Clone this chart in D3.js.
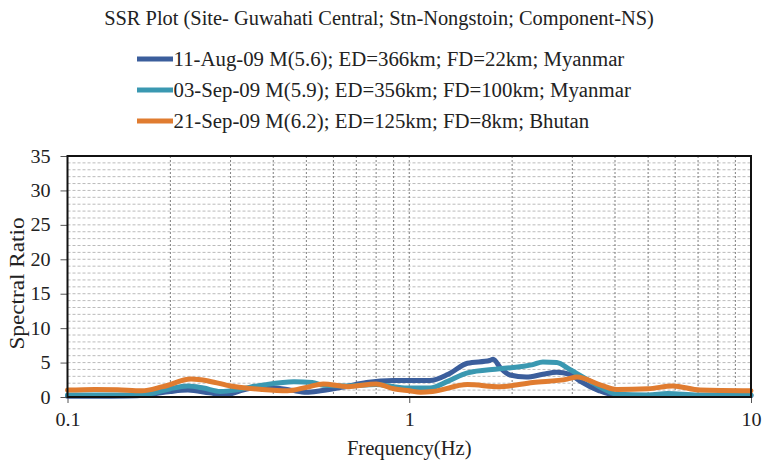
<!DOCTYPE html>
<html>
<head>
<meta charset="utf-8">
<script src="https://cdn.jsdelivr.net/npm/d3@7"></script>
<style>
  html, body { margin: 0; padding: 0; background: #fff; }
  svg { display: block; font-family: "Liberation Serif", "Times New Roman", serif; }
</style>
</head>
<body>
<svg id="chart" width="762" height="464"></svg>
<script>
// Spectral ratio curves: [frequency (Hz), spectral ratio]
const aug11 = [
  [0.1, 0.1], [0.12, 0.1], [0.15, 0.15], [0.17, 0.3], [0.2, 0.8], [0.225, 1.0],
  [0.26, 0.6], [0.29, 0.3], [0.32, 0.9], [0.35, 1.3], [0.4, 1.3], [0.45, 1.0],
  [0.5, 0.7], [0.55, 0.9], [0.65, 1.5], [0.75, 2.1], [0.9, 2.4], [1.0, 2.4],
  [1.15, 2.4], [1.3, 3.3], [1.48, 4.9], [1.72, 5.3], [1.76, 5.5], [1.85, 4.2],
  [1.97, 3.2], [2.2, 2.9], [2.46, 3.3], [2.7, 3.6], [2.95, 3.3], [3.16, 2.3],
  [3.6, 0.9], [4.0, 0.3], [5.0, 0.2], [6.0, 0.3], [7.0, 0.2], [10, 0.2]
];
const sep03 = [
  [0.1, 0.3], [0.13, 0.3], [0.16, 0.3], [0.18, 0.6], [0.2, 1.2], [0.225, 1.6],
  [0.25, 1.3], [0.28, 0.8], [0.31, 1.0], [0.34, 1.4], [0.38, 1.8], [0.46, 2.2],
  [0.52, 2.1], [0.56, 1.7], [0.65, 1.6], [0.8, 1.8], [0.9, 1.5], [1.0, 1.3],
  [1.15, 1.3], [1.3, 2.3], [1.48, 3.5], [1.84, 4.1], [2.3, 4.7], [2.46, 5.1],
  [2.7, 5.0], [2.95, 4.0], [3.3, 2.6], [3.8, 0.9], [4.05, 0.4], [5.0, 0.3],
  [5.7, 0.5], [7.0, 0.3], [10, 0.3]
];
const sep21 = [
  [0.1, 1.0], [0.12, 1.1], [0.14, 1.05], [0.165, 0.9], [0.19, 1.5], [0.23, 2.6],
  [0.26, 2.3], [0.3, 1.6], [0.37, 1.1], [0.44, 0.9], [0.5, 1.4], [0.56, 1.9],
  [0.66, 1.5], [0.8, 1.9], [0.9, 1.2], [1.0, 0.9], [1.08, 0.7], [1.17, 0.8],
  [1.48, 1.8], [1.84, 1.5], [2.3, 2.1], [2.9, 2.6], [3.1, 2.9], [3.6, 1.8],
  [4.05, 1.1], [5.0, 1.2], [5.9, 1.6], [7.1, 1.0], [10, 0.9]
];

const seriesNames = [
  "11-Aug-09 M(5.6); ED=366km; FD=22km; Myanmar",
  "03-Sep-09 M(5.9); ED=356km; FD=100km; Myanmar",
  "21-Sep-09 M(6.2); ED=125km; FD=8km; Bhutan"
];
const seriesColors = ["#3b5e9c", "#3a98b1", "#e07c30"];
const seriesData = [aug11, sep03, sep21];

const yTicks = [0, 5, 10, 15, 20, 25, 30, 35];
const xTicks = [0.1, 1, 10];
const xTickLabels = ["0.1", "1", "10"];
const titleText = "SSR Plot (Site- Guwahati Central; Stn-Nongstoin; Component-NS)";
const xAxisTitle = "Frequency(Hz)";
const yAxisTitle = "Spectral Ratio";

const svg = d3.select("#chart");
const plot = { left: 67.5, right: 751, top: 156, bottom: 397 };

const x = d3.scaleLog().domain([0.1, 10]).range([plot.left, plot.right]);
const y = d3.scaleLinear().domain([0, 35]).range([plot.bottom, plot.top]);

// Slightly widen the serif face to the set's extended lettering
const stretch = (sel, k) => sel.each(function () {
  const w = this.getComputedTextLength();
  d3.select(this).attr("textLength", w * k).attr("lengthAdjust", "spacingAndGlyphs");
});

// Minor horizontal grid, one line per unit
const hGrid = d3.range(1, 35);
svg.append("g").selectAll("line").data(hGrid).join("line")
  .attr("x1", plot.left).attr("x2", plot.right)
  .attr("y1", d => y(d)).attr("y2", d => y(d))
  .attr("stroke", "#aaa").attr("stroke-width", 0.8)
  .attr("stroke-dasharray", "3,2");

// Vertical grid at each log-decade subdivision
const vGrid = [];
[0.1, 1].forEach(dec => { for (let k = 2; k <= 9; k++) vGrid.push(dec * k); });
vGrid.push(1);
svg.append("g").selectAll("line").data(vGrid).join("line")
  .attr("x1", d => x(d)).attr("x2", d => x(d))
  .attr("y1", plot.top).attr("y2", plot.bottom)
  .attr("stroke", "#707070").attr("stroke-width", 0.9)
  .attr("stroke-dasharray", "2,2");

// Curves
const line = d3.line()
  .x(d => x(d[0])).y(d => y(d[1]))
  .curve(d3.curveMonotoneX);
svg.append("g").selectAll("path").data(seriesData).join("path")
  .attr("d", line)
  .attr("fill", "none")
  .attr("stroke", (d, i) => seriesColors[i])
  .attr("stroke-width", 5)
  .attr("stroke-linejoin", "round")
  .attr("stroke-linecap", "round");

// Axes
const yAxis = d3.axisLeft(y).tickValues(yTicks).tickSize(7).tickPadding(10);
const gy = svg.append("g").attr("transform", `translate(${plot.left},0)`).call(yAxis);
const xAxis = d3.axisBottom(x).tickValues(xTicks)
  .tickFormat((d, i) => xTickLabels[i]).tickSize(6).tickPadding(10);
const gx = svg.append("g").attr("transform", `translate(0,${plot.bottom})`).call(xAxis);
[gx, gy].forEach(g => {
  g.select(".domain").remove();
  g.selectAll(".tick line").attr("stroke", "#555");
  g.selectAll("text").attr("font-size", 19).attr("fill", "#222")
    .attr("font-family", "Liberation Serif, serif");
  stretch(g.selectAll("text"), 1.06);
});

// Plot frame
svg.append("rect")
  .attr("x", plot.left).attr("y", plot.top)
  .attr("width", plot.right - plot.left).attr("height", plot.bottom - plot.top)
  .attr("fill", "none").attr("stroke", "#111").attr("stroke-width", 2);

// Axis titles
svg.append("text").attr("x", x(1)).attr("y", 455)
  .attr("text-anchor", "middle").attr("font-size", 20).attr("fill", "#222")
  .text(xAxisTitle).call(stretch, 1.03);
svg.append("text").attr("transform", `translate(24,${(plot.top + plot.bottom) / 2 + 7}) rotate(-90)`)
  .attr("text-anchor", "middle").attr("font-size", 20).attr("fill", "#222")
  .text(yAxisTitle).call(stretch, 1.16);

// Title
svg.append("text").attr("x", 379).attr("y", 25)
  .attr("text-anchor", "middle").attr("font-size", 20).attr("fill", "#222")
  .text(titleText).call(stretch, 1.02);

// Legend
const legend = svg.append("g").selectAll("g").data(seriesNames).join("g")
  .attr("transform", (d, i) => `translate(137,${59 + i * 31})`);
legend.append("line").attr("x1", 0).attr("x2", 36).attr("y1", 0).attr("y2", 0)
  .attr("stroke", (d, i) => seriesColors[i]).attr("stroke-width", 5);
legend.append("text").attr("x", 36.5).attr("y", 6.5)
  .attr("font-size", 20).attr("fill", "#222")
  .text(d => d).call(stretch, 1.04);
</script>
</body>
</html>
